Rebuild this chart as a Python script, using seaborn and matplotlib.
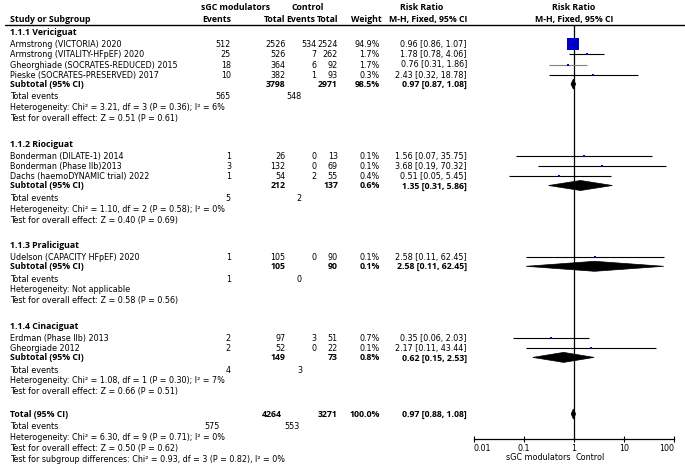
import matplotlib
matplotlib.use('Agg')
import matplotlib.pyplot as plt
from matplotlib.patches import Polygon
import seaborn as sns
import pandas as pd
import numpy as np

# ---- data ----
groups = ['1.1.1 Vericiguat', '1.1.2 Riociguat', '1.1.3 Praliciguat', '1.1.4 Cinaciguat']

studies = ['Armstrong (VICTORIA) 2020', 'Armstrong (VITALITY-HFpEF) 2020',
           'Gheorghiade (SOCRATES-REDUCED) 2015', 'Pieske (SOCRATES-PRESERVED) 2017',
           'Bonderman (DILATE-1) 2014', 'Bonderman (Phase IIb)2013',
           'Dachs (haemoDYNAMIC trial) 2022', 'Udelson (CAPACITY HFpEF) 2020',
           'Erdman (Phase IIb) 2013', 'Gheorgiade 2012']
study_group = [0, 0, 0, 0, 1, 1, 1, 2, 3, 3]
ev_sgc = [512, 25, 18, 10, 1, 3, 1, 1, 2, 2]
n_sgc = [2526, 526, 364, 382, 26, 132, 54, 105, 97, 52]
ev_ctl = [534, 7, 6, 1, 0, 0, 2, 0, 3, 0]
n_ctl = [2524, 262, 92, 93, 13, 69, 55, 90, 51, 22]
weight = [94.9, 1.7, 1.7, 0.3, 0.1, 0.1, 0.4, 0.1, 0.7, 0.1]
rr = [0.96, 1.78, 0.76, 2.43, 1.56, 3.68, 0.51, 2.58, 0.35, 2.17]
rr_lo = [0.86, 0.78, 0.31, 0.32, 0.07, 0.19, 0.05, 0.11, 0.06, 0.11]
rr_hi = [1.07, 4.06, 1.86, 18.78, 35.75, 70.32, 5.45, 62.45, 2.03, 43.44]

sub_n_sgc = [3798, 212, 105, 149]
sub_n_ctl = [2971, 137, 90, 73]
sub_ev_sgc = [565, 5, 1, 4]
sub_ev_ctl = [548, 2, 0, 3]
sub_weight = [98.5, 0.6, 0.1, 0.8]
sub_rr = [0.97, 1.35, 2.58, 0.62]
sub_lo = [0.87, 0.31, 0.11, 0.15]
sub_hi = [1.08, 5.86, 62.45, 2.53]
sub_het = ['Heterogeneity: Chi² = 3.21, df = 3 (P = 0.36); I² = 6%',
           'Heterogeneity: Chi² = 1.10, df = 2 (P = 0.58); I² = 0%',
           'Heterogeneity: Not applicable',
           'Heterogeneity: Chi² = 1.08, df = 1 (P = 0.30); I² = 7%']
sub_test = ['Test for overall effect: Z = 0.51 (P = 0.61)',
            'Test for overall effect: Z = 0.40 (P = 0.69)',
            'Test for overall effect: Z = 0.58 (P = 0.56)',
            'Test for overall effect: Z = 0.66 (P = 0.51)']

tot_n_sgc, tot_n_ctl = 4264, 3271
tot_ev_sgc, tot_ev_ctl = 575, 553
tot_rr, tot_lo, tot_hi = 0.97, 0.88, 1.08
tot_het = 'Heterogeneity: Chi² = 6.30, df = 9 (P = 0.71); I² = 0%'
tot_test = 'Test for overall effect: Z = 0.50 (P = 0.62)'
tot_subgrp = 'Test for subgroup differences: Chi² = 0.93, df = 3 (P = 0.82), I² = 0%'

tick_vals = [0.01, 0.1, 1, 10, 100]
tick_labels = ['0.01', '0.1', '1', '10', '100']

# ---- layout (pixel rows) ----
W, H = 685, 471
FS = 5.8     # regular text
FSB = 6.3    # bold text (narrower face)
y_head, y_study, y_sub, y_te, y_het, y_test = [], [], [], [], [], []
y = 32.0
for g in range(len(groups)):
    y_head.append(y)
    y += 12.0
    n = study_group.count(g)
    for k in range(n):
        y_study.append(y)
        if k < n - 1:
            y += 10.3
    y += 9.2
    y_sub.append(y)
    y += 12.3
    y_te.append(y)
    y += 10.9
    y_het.append(y)
    y += 10.9
    y_test.append(y)
    y += 25.5
y_tot = y_test[-1] + 22.5
y_tot_te = y_tot + 12
y_tot_het = y_tot_te + 11.3
y_tot_test = y_tot_het + 11
y_tot_sg = y_tot_test + 11
AXIS_Y = 439

sns.set_theme(style='white')
plt.rcParams['font.family'] = ['DejaVu Sans']

fig = plt.figure(figsize=(W / 100, H / 100), dpi=100)
ax_t = fig.add_axes([0, 0, 1, 1])
ax_t.set_xlim(0, W)
ax_t.set_ylim(H, 0)
ax_t.axis('off')


def txt(x, yy, s, ha='left', bold=False):
    if bold:
        ax_t.text(x, yy + 3.0, s, ha=ha, va='baseline', fontsize=FSB,
                  fontweight='bold', family=['Open Sans', 'DejaVu Sans'], color='black')
    else:
        ax_t.text(x, yy + 2.9, s, ha=ha, va='baseline', fontsize=FS, color='black')


X_L, X_EV1, X_N1, X_EV2, X_N2, X_W, X_CI = 10, 231, 285.5, 316.5, 338, 380, 467

# headers
txt(236, 7, 'sGC modulators', 'center', True)
txt(308, 7, 'Control', 'center', True)
txt(422, 7, 'Risk Ratio', 'center', True)
txt(574, 7, 'Risk Ratio', 'center', True)
txt(X_L, 19, 'Study or Subgroup', bold=True)
txt(X_EV1, 19, 'Events', 'right', True)
txt(X_N1, 19, 'Total', 'right', True)
txt(X_EV2 - 1, 19, 'Events', 'right', True)
txt(X_N2, 19, 'Total', 'right', True)
txt(X_W + 1.5, 19, 'Weight', 'right', True)
txt(X_CI, 19, 'M-H, Fixed, 95% CI', 'right', True)
txt(574, 19, 'M-H, Fixed, 95% CI', 'center', True)
ax_t.plot([5, W], [25, 25], color='black', lw=1.0)

for g, name in enumerate(groups):
    txt(X_L, y_head[g], name, bold=True)
for i, s in enumerate(studies):
    yy = y_study[i]
    txt(X_L, yy, s)
    txt(X_EV1, yy, str(ev_sgc[i]), 'right')
    txt(X_N1, yy, str(n_sgc[i]), 'right')
    txt(X_EV2, yy, str(ev_ctl[i]), 'right')
    txt(X_N2, yy, str(n_ctl[i]), 'right')
    txt(X_W, yy, f'{weight[i]:.1f}%', 'right')
    txt(X_CI, yy, f'{rr[i]:.2f} [{rr_lo[i]:.2f}, {rr_hi[i]:.2f}]', 'right')
for g in range(len(groups)):
    yy = y_sub[g]
    txt(X_L, yy, 'Subtotal (95% CI)', bold=True)
    txt(X_N1, yy, str(sub_n_sgc[g]), 'right', True)
    txt(X_N2, yy, str(sub_n_ctl[g]), 'right', True)
    txt(X_W, yy, f'{sub_weight[g]:.1f}%', 'right', True)
    txt(X_CI, yy, f'{sub_rr[g]:.2f} [{sub_lo[g]:.2f}, {sub_hi[g]:.2f}]', 'right', True)
    txt(X_L, y_te[g], 'Total events')
    txt(X_EV1, y_te[g], str(sub_ev_sgc[g]), 'right')
    txt(302, y_te[g], str(sub_ev_ctl[g]), 'right')
    txt(X_L, y_het[g], sub_het[g])
    txt(X_L, y_test[g], sub_test[g])

txt(X_L, y_tot, 'Total (95% CI)', bold=True)
txt(282, y_tot, str(tot_n_sgc), 'right', True)
txt(X_N2, y_tot, str(tot_n_ctl), 'right', True)
txt(X_W, y_tot, '100.0%', 'right', True)
txt(X_CI, y_tot, f'{tot_rr:.2f} [{tot_lo:.2f}, {tot_hi:.2f}]', 'right', True)
txt(X_L, y_tot_te, 'Total events')
txt(220, y_tot_te, str(tot_ev_sgc), 'right')
txt(300, y_tot_te, str(tot_ev_ctl), 'right')
txt(X_L, y_tot_het, tot_het)
txt(X_L, y_tot_test, tot_test)
txt(X_L, y_tot_sg, tot_subgrp)

txt(571, 457, 'sGC modulators', 'right')
txt(576, 457, 'Control', 'left')

# ---- forest panel ----
X0, X1 = 474, 674
ax = fig.add_axes([X0 / W, 0, (X1 - X0) / W, 1])
ax.patch.set_alpha(0)
ax.set_xscale('log')

ax.vlines(1, 25, AXIS_Y, color='black', lw=0.9, zorder=2)

ci_col = ['#808080' if s.startswith('Gheorghiade (SOC') else 'black' for s in studies]
ax.hlines(y_study, rr_lo, rr_hi, colors=ci_col, lw=0.8, zorder=3)

df = pd.DataFrame({'rr': rr, 'y': y_study, 'weight': weight})
side_px = np.maximum(12 * np.sqrt(df['weight'] / max(weight)), 2.0)
sns.scatterplot(data=df, x='rr', y='y', marker='s', s=(side_px * 0.72) ** 2,
                color='#0000c8', linewidth=0, legend=False, ax=ax, zorder=4)

hh = 5
for g in range(len(groups)):
    ax.add_patch(Polygon([(sub_lo[g], y_sub[g]), (sub_rr[g], y_sub[g] - hh),
                          (sub_hi[g], y_sub[g]), (sub_rr[g], y_sub[g] + hh)],
                         closed=True, facecolor='black', edgecolor='black', lw=0.5, zorder=4))
ax.add_patch(Polygon([(tot_lo, y_tot), (tot_rr, y_tot - hh), (tot_hi, y_tot), (tot_rr, y_tot + hh)],
                     closed=True, facecolor='black', edgecolor='black', lw=0.5, zorder=4))

ax.set_xlim(0.01, 100)
ax.set_ylim(H, 0)
ax.set_xlabel('')
ax.set_ylabel('')
ax.set_yticks([])
for side in ['left', 'right', 'top']:
    ax.spines[side].set_visible(False)
ax.spines['bottom'].set_position(('data', AXIS_Y))
ax.spines['bottom'].set_color('black')
ax.spines['bottom'].set_linewidth(0.9)
ax.set_xticks(tick_vals)
ax.set_xticklabels(tick_labels)
ax.minorticks_off()
ax.tick_params(axis='x', direction='inout', length=5, width=0.8, pad=1.0,
               labelsize=FS, colors='black', bottom=True)
lbls = ax.get_xticklabels()
lbls[0].set_ha('left')
lbls[-1].set_ha('right')

fig.savefig('out.png', dpi=100)
